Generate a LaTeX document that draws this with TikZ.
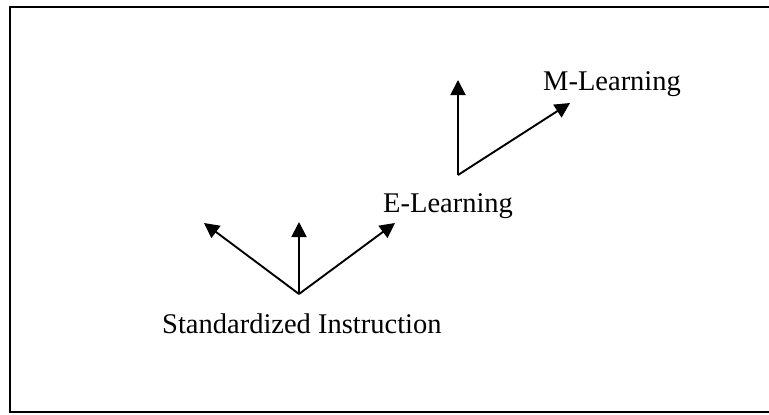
\documentclass[tikz,border=0pt]{standalone}
\usepackage{fontspec}
\setmainfont{Liberation Serif}
\usetikzlibrary{arrows.meta}
\begin{document}
\begin{tikzpicture}[x=1pt,y=-1pt,
  label/.style={anchor=base west,inner sep=0pt,font=\fontsize{28.5}{32}\selectfont},
  growth/.style={line width=1.9pt,-{Triangle[length=15pt,width=15pt]}},
  frame/.style={line width=1.5pt}]
\useasboundingbox (0,0) rectangle (769,415);
% open frame: top, left and bottom edges
\draw[frame] (769,7) -- (10,7) -- (10,412) -- (769,412);
% labels
\node[label] (st) at (162,333) {Standardized Instruction};
\node[label] (el) at (383,212) {E-Learning};
\node[label] (ml) at (543,90) {M-Learning};
% branching points and arrow ends
\coordinate (hs) at (299,294);
\coordinate (hsl) at (204,223);
\coordinate (hsu) at (299,222);
\coordinate (hsr) at (395,223);
\coordinate (he) at (458,175);
\coordinate (heu) at (458,80);
\coordinate (her) at (570,103);
\draw[growth] (hs) -- (hsl);
\draw[growth] (hs) -- (hsu);
\draw[growth] (hs) -- (hsr);
\draw[growth] (he) -- (heu);
\draw[growth] (he) -- (her);
\end{tikzpicture}
\end{document}
